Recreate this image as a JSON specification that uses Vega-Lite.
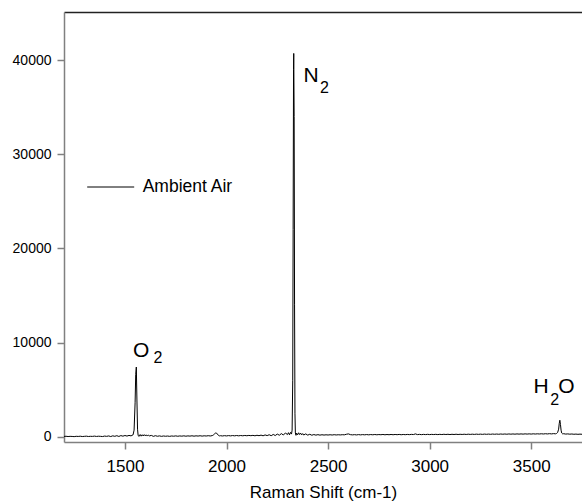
{
  "$schema": "https://vega.github.io/schema/vega-lite/v6.json",
  "width": 518,
  "height": 430,
  "autosize": "none",
  "padding": {"left": 64, "top": 12, "right": 0, "bottom": 60},
  "background": "white",
  "config": {"font": "Liberation Sans", "view": {"stroke": null}, "axis": {"grid": false}},
  "datasets": {
    "spectrum": [
      {"x":1200,"y":30},{"x":1210,"y":50},{"x":1220,"y":20},{"x":1230,"y":40},{"x":1240,"y":30},{"x":1250,"y":10},{"x":1260,"y":45},{"x":1270,"y":30},{"x":1280,"y":55},{"x":1290,"y":20},
      {"x":1300,"y":40},{"x":1310,"y":60},{"x":1320,"y":25},{"x":1330,"y":45},{"x":1340,"y":35},{"x":1350,"y":65},{"x":1360,"y":30},{"x":1370,"y":55},{"x":1380,"y":40},{"x":1390,"y":20},
      {"x":1400,"y":70},{"x":1410,"y":40},{"x":1420,"y":85},{"x":1430,"y":20},{"x":1440,"y":95},{"x":1450,"y":45},{"x":1460,"y":110},{"x":1470,"y":30},{"x":1480,"y":120},{"x":1490,"y":60},
      {"x":1500,"y":130},{"x":1510,"y":70},{"x":1520,"y":140},{"x":1530,"y":90},{"x":1535,"y":150},{"x":1540,"y":200},{"x":1545,"y":700},{"x":1550,"y":3600},{"x":1553,"y":6600},{"x":1556,"y":7400},
      {"x":1559,"y":3900},{"x":1562,"y":800},{"x":1565,"y":120},{"x":1570,"y":40},{"x":1575,"y":230},{"x":1580,"y":60},{"x":1585,"y":210},{"x":1590,"y":80},{"x":1595,"y":220},{"x":1600,"y":90},
      {"x":1605,"y":200},{"x":1610,"y":70},{"x":1615,"y":180},{"x":1620,"y":90},{"x":1630,"y":140},{"x":1640,"y":40},{"x":1650,"y":110},{"x":1660,"y":50},{"x":1670,"y":90},{"x":1680,"y":40},
      {"x":1690,"y":80},{"x":1700,"y":50},{"x":1710,"y":75},{"x":1720,"y":40},{"x":1730,"y":80},{"x":1740,"y":55},{"x":1750,"y":90},{"x":1760,"y":50},{"x":1770,"y":85},{"x":1780,"y":60},
      {"x":1790,"y":95},{"x":1800,"y":55},{"x":1810,"y":90},{"x":1820,"y":65},{"x":1830,"y":100},{"x":1840,"y":60},{"x":1850,"y":95},{"x":1860,"y":70},{"x":1870,"y":105},{"x":1880,"y":65},
      {"x":1890,"y":100},{"x":1900,"y":75},{"x":1910,"y":110},{"x":1920,"y":80},{"x":1930,"y":120},{"x":1935,"y":180},{"x":1940,"y":280},{"x":1945,"y":380},{"x":1950,"y":400},{"x":1955,"y":280},
      {"x":1960,"y":150},{"x":1965,"y":90},{"x":1970,"y":110},{"x":1980,"y":80},{"x":1990,"y":115},{"x":2000,"y":85},{"x":2010,"y":120},{"x":2020,"y":90},{"x":2030,"y":125},{"x":2040,"y":95},
      {"x":2050,"y":130},{"x":2060,"y":95},{"x":2070,"y":130},{"x":2080,"y":100},{"x":2090,"y":135},{"x":2100,"y":105},{"x":2110,"y":140},{"x":2120,"y":110},{"x":2130,"y":145},{"x":2140,"y":100},
      {"x":2150,"y":155},{"x":2160,"y":110},{"x":2170,"y":170},{"x":2180,"y":100},{"x":2190,"y":190},{"x":2200,"y":120},{"x":2210,"y":210},{"x":2220,"y":110},{"x":2230,"y":240},{"x":2240,"y":130},
      {"x":2250,"y":280},{"x":2260,"y":160},{"x":2270,"y":330},{"x":2280,"y":180},{"x":2290,"y":400},{"x":2300,"y":230},{"x":2305,"y":430},{"x":2310,"y":200},{"x":2315,"y":460},{"x":2320,"y":280},
      {"x":2323,"y":700},{"x":2326,"y":6000},{"x":2328,"y":22000},{"x":2330,"y":39000},{"x":2331,"y":40700},{"x":2333,"y":34000},{"x":2335,"y":14000},{"x":2337,"y":2500},{"x":2339,"y":400},{"x":2342,"y":150},
      {"x":2345,"y":380},{"x":2350,"y":200},{"x":2355,"y":420},{"x":2360,"y":230},{"x":2365,"y":380},{"x":2370,"y":200},{"x":2375,"y":330},{"x":2380,"y":180},{"x":2390,"y":300},{"x":2400,"y":170},
      {"x":2410,"y":260},{"x":2420,"y":160},{"x":2430,"y":230},{"x":2440,"y":170},{"x":2450,"y":220},{"x":2460,"y":170},{"x":2470,"y":210},{"x":2480,"y":175},{"x":2490,"y":205},{"x":2500,"y":180},
      {"x":2510,"y":210},{"x":2520,"y":180},{"x":2530,"y":215},{"x":2540,"y":185},{"x":2550,"y":210},{"x":2560,"y":190},{"x":2570,"y":215},{"x":2580,"y":200},{"x":2590,"y":260},{"x":2600,"y":300},
      {"x":2610,"y":220},{"x":2620,"y":195},{"x":2630,"y":220},{"x":2640,"y":190},{"x":2650,"y":225},{"x":2660,"y":195},{"x":2670,"y":225},{"x":2680,"y":200},{"x":2690,"y":230},{"x":2700,"y":200},
      {"x":2710,"y":230},{"x":2720,"y":205},{"x":2730,"y":235},{"x":2740,"y":205},{"x":2750,"y":230},{"x":2760,"y":210},{"x":2770,"y":240},{"x":2780,"y":205},{"x":2790,"y":235},{"x":2800,"y":210},
      {"x":2810,"y":240},{"x":2820,"y":210},{"x":2830,"y":240},{"x":2840,"y":215},{"x":2850,"y":245},{"x":2860,"y":210},{"x":2870,"y":240},{"x":2880,"y":215},{"x":2890,"y":245},{"x":2900,"y":220},
      {"x":2910,"y":250},{"x":2920,"y":230},{"x":2930,"y":300},{"x":2940,"y":225},{"x":2950,"y":250},{"x":2960,"y":220},{"x":2970,"y":250},{"x":2980,"y":225},{"x":2990,"y":255},{"x":3000,"y":225},
      {"x":3010,"y":250},{"x":3020,"y":230},{"x":3030,"y":255},{"x":3040,"y":225},{"x":3050,"y":255},{"x":3060,"y":230},{"x":3070,"y":260},{"x":3080,"y":235},{"x":3090,"y":260},{"x":3100,"y":230},
      {"x":3110,"y":260},{"x":3120,"y":235},{"x":3130,"y":265},{"x":3140,"y":235},{"x":3150,"y":260},{"x":3160,"y":240},{"x":3170,"y":265},{"x":3180,"y":240},{"x":3190,"y":270},{"x":3200,"y":245},
      {"x":3210,"y":270},{"x":3220,"y":245},{"x":3230,"y":275},{"x":3240,"y":250},{"x":3250,"y":275},{"x":3260,"y":250},{"x":3270,"y":280},{"x":3280,"y":255},{"x":3290,"y":280},{"x":3300,"y":255},
      {"x":3310,"y":285},{"x":3320,"y":260},{"x":3330,"y":285},{"x":3340,"y":260},{"x":3350,"y":290},{"x":3360,"y":265},{"x":3370,"y":290},{"x":3380,"y":265},{"x":3390,"y":295},{"x":3400,"y":270},
      {"x":3410,"y":295},{"x":3420,"y":270},{"x":3430,"y":300},{"x":3440,"y":275},{"x":3450,"y":300},{"x":3460,"y":275},{"x":3470,"y":305},{"x":3480,"y":280},{"x":3490,"y":305},{"x":3500,"y":280},
      {"x":3510,"y":310},{"x":3520,"y":285},{"x":3530,"y":310},{"x":3540,"y":290},{"x":3550,"y":315},{"x":3560,"y":290},{"x":3570,"y":320},{"x":3580,"y":295},{"x":3590,"y":325},{"x":3600,"y":300},
      {"x":3610,"y":330},{"x":3620,"y":310},{"x":3625,"y":350},{"x":3630,"y":450},{"x":3635,"y":800},{"x":3638,"y":1400},{"x":3641,"y":1750},{"x":3644,"y":1300},{"x":3647,"y":700},{"x":3650,"y":400},
      {"x":3655,"y":300},{"x":3660,"y":320},{"x":3670,"y":280},{"x":3680,"y":300},{"x":3690,"y":270},{"x":3700,"y":290},{"x":3710,"y":260},{"x":3720,"y":280},{"x":3730,"y":255},{"x":3740,"y":275},{"x":3750,"y":260}
    ],
    "labels": [
      {"text":"N","role":"main","x":2379,"y":37667},
      {"text":"2","role":"sub","x":2460,"y":36499},
      {"text":"O","role":"main","x":1540,"y":8498},
      {"text":"2","role":"sub","x":1640,"y":7797},
      {"text":"H","role":"main","x":3511,"y":4612},
      {"text":"2","role":"sub","x":3594,"y":3369},
      {"text":"O","role":"main","x":3633,"y":4612}
    ]
  },
  "layer": [
    {
      "data": {"name": "spectrum"},
      "mark": {"type": "line", "strokeWidth": 1, "clip": true},
      "encoding": {
        "x": {
          "field": "x", "type": "quantitative",
          "scale": {"domain": [1200, 3750], "nice": false, "zero": false},
          "axis": {
            "values": [1500, 2000, 2500, 3000, 3500], "format": "d",
            "labelFontSize": 17, "labelColor": "black", "labelPadding": 9,
            "tickColor": "#808080", "domainColor": "#808080", "tickSize": 7, "tickWidth": 1.5, "domainWidth": 1.5,
            "title": "Raman Shift (cm-1)", "titleFontSize": 17, "titleFontWeight": "normal", "titleColor": "black", "titlePadding": 10
          }
        },
        "y": {
          "field": "y", "type": "quantitative",
          "scale": {"domain": [-560, 45100], "nice": false, "zero": false},
          "axis": {
            "values": [0, 10000, 20000, 30000, 40000], "format": "d",
            "labelFontSize": 14, "labelColor": "black", "labelPadding": 6,
            "tickColor": "#808080", "domainColor": "#808080", "tickSize": 7, "tickWidth": 1.5, "domainWidth": 1.5,
            "title": null
          }
        },
        "color": {
          "datum": "Ambient Air", "type": "nominal",
          "scale": {"range": ["black"]},
          "legend": {
            "title": null, "orient": "none", "legendX": 22.7, "legendY": 151,
            "symbolType": "stroke", "symbolSize": 2209, "symbolStrokeWidth": 1, "symbolStrokeColor": "black",
            "labelFontSize": 17.5, "labelColor": "black", "labelOffset": 8, "padding": 0
          }
        }
      }
    },
    {
      "data": {"name": "labels"},
      "transform": [{"filter": "datum.role == 'main'"}],
      "mark": {"type": "text", "align": "left", "baseline": "alphabetic", "fontSize": 21, "color": "black"},
      "encoding": {
        "x": {"field": "x", "type": "quantitative", "axis": {"orient": "top", "labels": false, "ticks": false, "domainColor": "#222222", "domainWidth": 1.5, "title": null}},
        "y": {"field": "y", "type": "quantitative", "axis": null},
        "text": {"field": "text"}
      }
    },
    {
      "data": {"name": "labels"},
      "transform": [{"filter": "datum.role == 'sub'"}],
      "mark": {"type": "text", "align": "left", "baseline": "alphabetic", "fontSize": 16, "color": "black"},
      "encoding": {
        "x": {"field": "x", "type": "quantitative", "axis": null},
        "y": {"field": "y", "type": "quantitative", "axis": null},
        "text": {"field": "text"}
      }
    }
  ],
  "resolve": {"axis": {"x": "independent", "y": "independent"}}
}
